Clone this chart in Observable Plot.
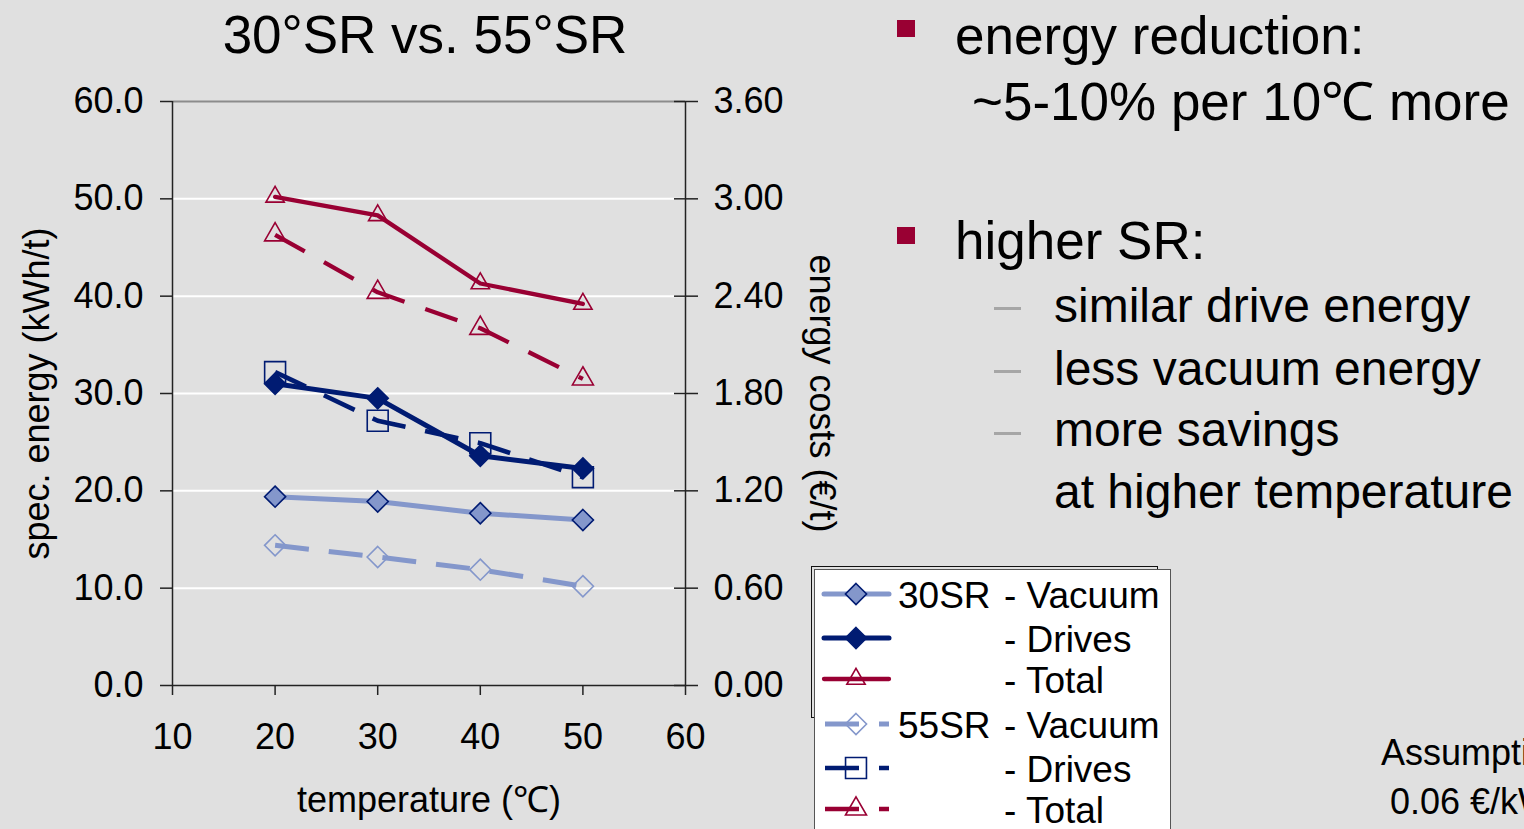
<!DOCTYPE html>
<html><head><meta charset="utf-8">
<script src="https://cdn.jsdelivr.net/npm/d3@7"></script>
<script src="https://cdn.jsdelivr.net/npm/@observablehq/plot@0.6"></script>
<style>
html,body{margin:0;padding:0;background:#e0e0e0;width:1524px;height:829px;overflow:hidden;font-family:"Liberation Sans",Arial,sans-serif;}
#page{position:relative;width:1524px;height:829px;overflow:hidden;}
.t{position:absolute;white-space:nowrap;line-height:1;color:#000;}
.bullet{position:absolute;width:18px;height:17px;background:#990033;}
.dash{position:absolute;width:27px;height:3px;background:#a6a6a6;}
</style></head><body><div id="page">
<div class="t" id="title" style="left:0;width:850px;text-align:center;top:8px;font-size:53px;"></div>
<div id="chart" style="position:absolute;left:0;top:80px;"></div>
<div class="bullet" style="left:897px;top:20px;"></div>
<div class="t" style="left:955px;top:9px;font-size:53px;">energy reduction:</div>
<div class="t" style="left:972px;top:75px;font-size:53px;">~5-10% per 10℃ more</div>
<div class="bullet" style="left:897px;top:227px;"></div>
<div class="t" style="left:955px;top:214px;font-size:53px;">higher SR:</div>
<div class="dash" style="left:994px;top:307px;"></div>
<div class="t" style="left:1054px;top:282px;font-size:48px;">similar drive energy</div>
<div class="dash" style="left:994px;top:370px;"></div>
<div class="t" style="left:1054px;top:345px;font-size:48px;">less vacuum energy</div>
<div class="dash" style="left:994px;top:432px;"></div>
<div class="t" style="left:1054px;top:406px;font-size:48px;">more savings</div>
<div class="t" style="left:1054px;top:468px;font-size:48px;">at higher temperature</div>
<div class="t" style="left:1381px;top:735px;font-size:36px;">Assumption:</div>
<div class="t" style="left:1390px;top:784px;font-size:36px;">0.06 €/kWh</div>
<div style="position:absolute;left:811px;top:566px;width:345px;height:150px;border:1.5px solid #111;"></div>
<div id="legend" style="position:absolute;left:814px;top:569px;width:355px;height:259px;background:#fff;border:1px solid #555;border-bottom:none;overflow:hidden;"></div>
</div>
<script>
// ---- data ----
const temperature = [20, 30, 40, 50];
const vacuum30 = [19.4, 18.9, 17.7, 17.0];
const drives30 = [31.0, 29.5, 23.6, 22.3];
const total30  = [50.2, 48.3, 41.3, 39.2];
const vacuum55 = [14.4, 13.2, 11.9, 10.2];
const drives55 = [32.2, 27.2, 24.9, 21.4];
const total55  = [46.3, 40.4, 36.7, 31.5];
const xTicks = [10, 20, 30, 40, 50, 60];
const yTicks = [0, 10, 20, 30, 40, 50, 60];
const costPerKWh = 0.06; // €/kWh
const titleText = "30°SR vs. 55°SR";
const seriesNames = ["30SR - Vacuum", "30SR - Drives", "30SR - Total", "55SR - Vacuum", "55SR - Drives", "55SR - Total"];
const seriesValues = [vacuum30, drives30, total30, vacuum55, drives55, total55];

// ---- styles ----
const LB = "#8497cb", NAVY = "#001b72", RED = "#990033";
const styles = {
  "30SR - Vacuum": {stroke: LB, sw: 5, dash: null, symbol: "diamond2", fill: LB, mstroke: NAVY, r: 9.5},
  "30SR - Drives": {stroke: NAVY, sw: 5, dash: null, symbol: "diamond2", fill: NAVY, mstroke: NAVY, r: 9.5},
  "30SR - Total":  {stroke: RED, sw: 4.3, dash: null, symbol: "triangle", fill: "none", mstroke: RED, r: 6.8},
  "55SR - Vacuum": {stroke: LB, sw: 5, dash: "34,20", symbol: "diamond2", fill: "none", mstroke: LB, r: 9.5},
  "55SR - Drives": {stroke: NAVY, sw: 4.6, dash: "34,20", symbol: "square", fill: "none", mstroke: NAVY, r: 11.8},
  "55SR - Total":  {stroke: RED, sw: 4.3, dash: "34,22", symbol: "triangle", fill: "none", mstroke: RED, r: 7.8}
};

document.getElementById("title").textContent = titleText;

const rows = [];
seriesNames.forEach((s, i) => temperature.forEach((t, j) => rows.push({series: s, t, v: seriesValues[i][j]})));

const drawOrder = [3, 4, 5, 0, 1, 2];
const seriesMarks = [];
for (const i of drawOrder) {
  const name = seriesNames[i], st = styles[name];
  const d = rows.filter(r => r.series === name);
  seriesMarks.push(Plot.line(d, {x: "t", y: "v", stroke: st.stroke, strokeWidth: st.sw,
    strokeDasharray: st.dash || undefined, strokeLinecap: st.dash ? "butt" : "round", strokeLinejoin: "round"}));
  seriesMarks.push(Plot.dot(d, {x: "t", y: "v", symbol: st.symbol, r: st.r, fill: st.fill, stroke: st.mstroke, strokeWidth: 1.6}));
}

const chart = Plot.plot({
  width: 880, height: 749,
  marginLeft: 172, marginRight: 195, marginTop: 21, marginBottom: 144,
  style: {background: "#e0e0e0", fontFamily: "'Liberation Sans', Arial, sans-serif", fontSize: "36px", color: "#000", overflow: "visible"},
  x: {domain: [10, 60]},
  y: {domain: [0, 60]},
  marks: [
    Plot.ruleY(yTicks.filter(d => d > 0 && d < 60), {stroke: "#ffffff", strokeWidth: 2}),
    Plot.ruleY([60], {stroke: "#8c8c8c", strokeWidth: 2}),
    Plot.ruleX([10, 60], {stroke: "#222", strokeWidth: 1.5}),
    Plot.ruleY([0], {stroke: "#222", strokeWidth: 1.5}),
    Plot.axisX({ticks: xTicks, tickSize: 10, tickPadding: 28, stroke: "#222", strokeWidth: 1.5, fill: "#000", tickFormat: d => String(d), label: null, fontSize: 36}),
    Plot.axisY({anchor: "left", ticks: yTicks, tickSize: 12, tickPadding: 17, stroke: "#222", strokeWidth: 1.5, fill: "#000", tickFormat: d3.format(".1f"), label: null, fontSize: 36}),
    Plot.axisY({anchor: "right", ticks: yTicks, tickSize: 12, tickPadding: 16, stroke: "#222", strokeWidth: 1.5, fill: "#000", tickFormat: d => (d * costPerKWh).toFixed(2), label: null, fontSize: 36}),
    Plot.axisY({anchor: "right", ticks: yTicks, tickSize: 12, dx: -12, stroke: "#222", strokeWidth: 1.5, tickFormat: () => "", label: null}),
    Plot.text(["spec. energy (kWh/t)"], {text: d => d, frameAnchor: "left", textAnchor: "middle", lineAnchor: "middle", rotate: -90, dx: -135, fontSize: 36, fill: "#000"}),
    Plot.text(["energy costs (€/t)"], {text: d => d, frameAnchor: "right", textAnchor: "middle", lineAnchor: "middle", rotate: 90, dx: 136, fontSize: 36, fill: "#000"}),
    Plot.text(["temperature (℃)"], {text: d => d, frameAnchor: "bottom", textAnchor: "middle", lineAnchor: "middle", dy: 115, fontSize: 36, fill: "#000"}),
    ...seriesMarks
  ]
});
document.getElementById("chart").appendChild(chart);

// ---- legend ----
const lg = d3.select("#legend").append("svg").attr("width", 355).attr("height", 259)
  .style("font-family", "'Liberation Sans', Arial, sans-serif").style("font-size", "37px");
const rowY = [24, 68, 109, 154, 198, 239];
const symMap = {diamond2: d3.symbolDiamond2, square: d3.symbolSquare, triangle: d3.symbolTriangle};
seriesNames.forEach((name, i) => {
  const st = styles[name], y = rowY[i];
  const g = lg.append("g");
  if (st.dash) {
    g.append("line").attr("x1", 10).attr("x2", 74).attr("y1", y).attr("y2", y)
      .attr("stroke", st.stroke).attr("stroke-width", st.sw).attr("stroke-dasharray", "34,20");
  } else {
    g.append("line").attr("x1", 9).attr("x2", 74).attr("y1", y).attr("y2", y)
      .attr("stroke", st.stroke).attr("stroke-width", st.sw).attr("stroke-linecap", "round");
  }
  g.append("path").attr("transform", `translate(41,${y})`)
    .attr("d", d3.symbol(symMap[st.symbol], Math.PI * st.r * st.r)())
    .attr("fill", st.fill === "none" ? "none" : st.fill).attr("stroke", st.mstroke).attr("stroke-width", 1.6);
  const [grp, part] = name.split(" - ");
  if (i === 0 || i === 3) g.append("text").attr("x", 83).attr("y", y + 14).text(grp);
  g.append("text").attr("x", 189).attr("y", y + 14).text("- " + part);
});
</script>
</body></html>
